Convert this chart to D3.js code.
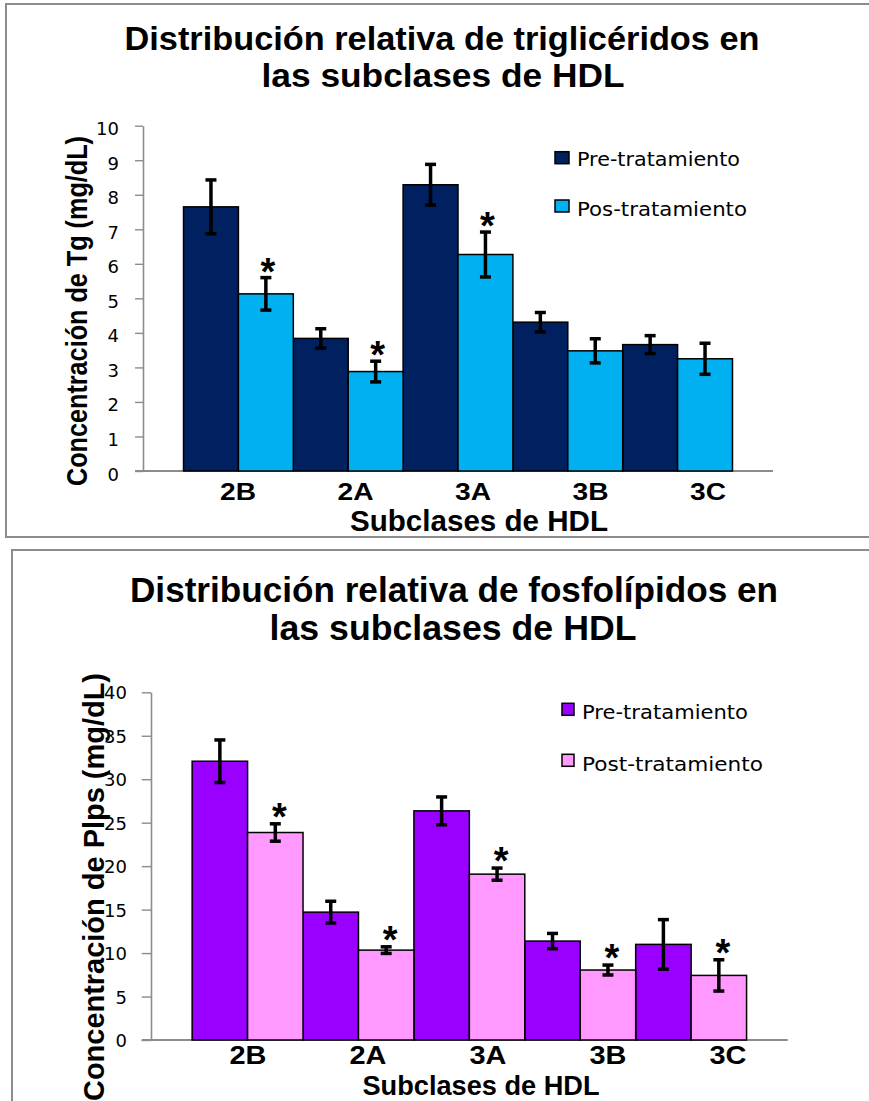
<!DOCTYPE html>
<html>
<head>
<meta charset="utf-8">
<script src="https://cdn.jsdelivr.net/npm/d3@7"></script>
<style>
  html, body { margin: 0; padding: 0; background: #fff; }
  svg { display: block; }
</style>
</head>
<body>
<svg id="chart" width="869" height="1101"></svg>
<script>
// HDL subclasses shown on both charts
const categories = ["2B", "2A", "3A", "3B", "3C"];

// Triglycerides (mg/dL): means, errors and significance marks
const tgPre = [7.65, 3.84, 8.29, 4.31, 3.66];
const tgPreErr = [0.78, 0.28, 0.59, 0.28, 0.26];
const tgPost = [5.13, 2.88, 6.27, 3.48, 3.25];
const tgPostErr = [0.47, 0.30, 0.65, 0.35, 0.45];
const tgSignificant = [true, true, true, false, false];
const tgTicks = [0, 1, 2, 3, 4, 5, 6, 7, 8, 9, 10];
const tgSeriesNames = ["Pre-tratamiento", "Pos-tratamiento"];

// Phospholipids (mg/dL): means, errors and significance marks
const plPre = [32.07, 14.71, 26.36, 11.38, 11.0];
const plPreErr = [2.45, 1.25, 1.6, 0.88, 2.85];
const plPost = [23.87, 10.34, 19.08, 8.05, 7.43];
const plPostErr = [1.0, 0.38, 0.7, 0.57, 1.8];
const plSignificant = [true, true, true, true, true];
const plTicks = [0, 5, 10, 15, 20, 25, 30, 35, 40];
const plSeriesNames = ["Pre-tratamiento", "Post-tratamiento"];

const svg = d3.select("#chart");
const BOLD = "'Liberation Sans', Arial, Helvetica, sans-serif";
const REG = "'DejaVu Sans', Verdana, sans-serif";
const STAR = 38;

function drawPanel(p) {
  const g = svg.append("g");

  // panel frame
  g.append("rect")
    .attr("x", p.frame[0]).attr("y", p.frame[1])
    .attr("width", 1000).attr("height", p.frame[2])
    .attr("fill", "#fff").attr("stroke", "#8c8c8c").attr("stroke-width", 2);

  // title, two lines
  p.title.forEach((t, i) => {
    g.append("text")
      .attr("x", p.titleX[i]).attr("y", p.titleY[i])
      .attr("text-anchor", "middle")
      .attr("font-family", BOLD).attr("font-weight", "bold")
      .attr("font-size", p.titleSize)
      .attr("textLength", p.titleLen[i]).attr("lengthAdjust", "spacingAndGlyphs")
      .text(t);
  });

  const y = d3.scaleLinear().domain([0, d3.max(p.ticks)]).range([p.y0, p.yTop]);
  const x = d3.scaleBand().domain(categories).range([p.x0, p.x1])
    .paddingInner(0).paddingOuter(p.outer);
  const xs = d3.scaleBand().domain([0, 1]).range([0, x.bandwidth()]);
  const xl = d3.scalePoint().domain(categories).range(p.labelRange);

  // y axis
  const yAxis = g.append("g")
    .attr("transform", `translate(${p.x0},0)`)
    .call(d3.axisLeft(y).tickValues(p.ticks).tickSize(p.tickSize)
      .tickSizeOuter(0).tickPadding(p.tickPad));
  yAxis.select(".domain").attr("stroke", "#8c8c8c").attr("stroke-width", 1.6);
  yAxis.selectAll(".tick line").attr("stroke", "#8c8c8c").attr("stroke-width", 1.4);
  yAxis.selectAll(".tick text")
    .attr("font-family", REG).attr("font-size", p.tickFont)
    .attr("fill", "#000").attr("dy", p.tickDy);

  // x axis baseline
  g.append("line")
    .attr("x1", p.x0 - p.tickSize).attr("x2", p.x1)
    .attr("y1", y(0)).attr("y2", y(0))
    .attr("stroke", "#8c8c8c").attr("stroke-width", 1.8);

  const series = [
    { vals: p.pre, err: p.preErr, color: p.colors[0] },
    { vals: p.post, err: p.postErr, color: p.colors[1] }
  ];

  series.forEach((s, si) => {
    const rows = categories.map((c, i) => ({ c, v: s.vals[i], e: s.err[i], sig: p.sig[i] }));
    const sg = g.append("g");
    sg.selectAll("rect").data(rows).join("rect")
      .attr("x", d => x(d.c) + xs(si))
      .attr("y", d => y(d.v))
      .attr("width", xs.bandwidth())
      .attr("height", d => y(0) - y(d.v))
      .attr("fill", s.color)
      .attr("stroke", "#000").attr("stroke-width", 1.5);

    const cx = d => x(d.c) + xs(si) + xs.bandwidth() / 2;
    const eg = sg.selectAll("g.err").data(rows).join("g").attr("class", "err");
    eg.append("line")
      .attr("x1", cx).attr("x2", cx)
      .attr("y1", d => y(d.v + d.e)).attr("y2", d => y(d.v - d.e))
      .attr("stroke", "#000").attr("stroke-width", 3.5);
    [1, -1].forEach(sign => {
      eg.append("line")
        .attr("x1", d => cx(d) - 5.5).attr("x2", d => cx(d) + 5.5)
        .attr("y1", d => y(d.v + sign * d.e)).attr("y2", d => y(d.v + sign * d.e))
        .attr("stroke", "#000").attr("stroke-width", 3.5);
    });

    if (si === 1) {
      sg.selectAll("text.sig").data(rows.filter(d => d.sig)).join("text")
        .attr("class", "sig")
        .attr("x", d => cx(d) + p.starDx)
        .attr("y", d => y(d.v + d.e) - p.starGap + 0.56 * STAR)
        .attr("text-anchor", "middle")
        .attr("font-family", BOLD).attr("font-weight", "bold")
        .attr("font-size", STAR)
        .text("*");
    }
  });

  // category labels
  g.selectAll("text.cat").data(categories).join("text")
    .attr("class", "cat")
    .attr("x", d => xl(d)).attr("y", p.catY)
    .attr("text-anchor", "middle")
    .attr("font-family", BOLD).attr("font-weight", "bold")
    .attr("font-size", p.catSize)
    .attr("textLength", p.catLen).attr("lengthAdjust", "spacingAndGlyphs")
    .text(d => d);

  // x axis title
  g.append("text")
    .attr("x", p.xTitle[0]).attr("y", p.xTitle[1])
    .attr("text-anchor", "middle")
    .attr("font-family", BOLD).attr("font-weight", "bold")
    .attr("font-size", p.xTitle[2])
    .attr("textLength", p.xTitle[3]).attr("lengthAdjust", "spacingAndGlyphs")
    .text("Subclases de HDL");

  // y axis title
  g.append("text")
    .attr("transform", `translate(${p.yTitle[0]},${p.yTitle[1]}) rotate(-90)`)
    .attr("text-anchor", "middle")
    .attr("font-family", BOLD).attr("font-weight", "bold")
    .attr("font-size", p.yTitle[2])
    .attr("textLength", p.yTitle[3]).attr("lengthAdjust", "spacingAndGlyphs")
    .text(p.yLabel);

  // legend
  p.names.forEach((n, i) => {
    g.append("rect")
      .attr("x", p.legend.x).attr("y", p.legend.sy[i])
      .attr("width", p.legend.w).attr("height", p.legend.h)
      .attr("fill", p.colors[i]).attr("stroke", "#000").attr("stroke-width", 1.5);
    g.append("text")
      .attr("x", p.legend.tx).attr("y", p.legend.ty[i])
      .attr("font-family", REG).attr("font-size", 20)
      .attr("textLength", p.legend.len[i]).attr("lengthAdjust", "spacingAndGlyphs")
      .text(n);
  });
}

drawPanel({
  frame: [6, 4, 533],
  title: ["Distribución relativa de triglicéridos en", "las subclases de HDL"],
  titleX: [442, 443], titleY: [50, 87], titleSize: 34, titleLen: [635, 363],
  ticks: tgTicks, y0: 471, yTop: 125.7, x0: 143, x1: 773, outer: 0.369,
  tickSize: 8, tickPad: 16, tickFont: 18, tickDy: "0.5em",
  pre: tgPre, preErr: tgPreErr, post: tgPost, postErr: tgPostErr, sig: tgSignificant,
  colors: ["#00205f", "#00b0f0"],
  starDx: 2, starGap: 14,
  labelRange: [238, 708], catY: 500, catSize: 24, catLen: 36,
  xTitle: [479, 531, 30, 258],
  yLabel: "Concentración de Tg (mg/dL)", yTitle: [87, 311, 29, 350],
  names: tgSeriesNames,
  legend: { x: 555, sy: [151.7, 200], w: 14, h: 12, tx: 577, ty: [166, 216], len: [163, 170] }
});

drawPanel({
  frame: [12, 550, 600],
  title: ["Distribución relativa de fosfolípidos en", "las subclases de HDL"],
  titleX: [454, 453], titleY: [602, 640], titleSize: 35, titleLen: [648, 367],
  ticks: plTicks, y0: 1040, yTop: 692.3, x0: 151, x1: 787.7, outer: 0.371,
  tickSize: 9.3, tickPad: 14.7, tickFont: 18, tickDy: "0.36em",
  pre: plPre, preErr: plPreErr, post: plPost, postErr: plPostErr, sig: plSignificant,
  colors: ["#9900ff", "#ff99ff"],
  starDx: 4, starGap: 15,
  labelRange: [248, 728], catY: 1064, catSize: 26, catLen: 37,
  xTitle: [481, 1095, 27, 237],
  yLabel: "Concentración de Plps (mg/dL)", yTitle: [104, 887, 30, 428],
  names: plSeriesNames,
  legend: { x: 562, sy: [703.3, 754.3], w: 12, h: 12, tx: 582, ty: [719.3, 771], len: [166, 181] }
});
</script>
</body>
</html>
